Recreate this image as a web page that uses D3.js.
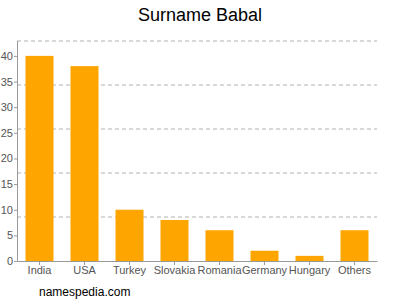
<!DOCTYPE html>
<meta charset="utf-8">
<script src="https://d3js.org/d3.v7.min.js"></script>
<style>
  body { margin: 0; }
  text { font-family: "Liberation Sans", Arial, sans-serif; }
</style>
<div id="my_dataviz"></div>
<script>

// data
var countries = ["India", "USA", "Turkey", "Slovakia", "Romania", "Germany", "Hungary", "Others"];
var counts = [40, 38, 10, 8, 6, 2, 1, 6];
var yTicks = [0, 5, 10, 15, 20, 25, 30, 35, 40];

var margin = {top: 40.5, right: 23, bottom: 39, left: 17},
    width = 400 - margin.left - margin.right,
    height = 300 - margin.top - margin.bottom;

var svg = d3.select("#my_dataviz")
  .append("svg")
    .attr("width", 400)
    .attr("height", 300);

var g = svg.append("g")
    .attr("transform", "translate(" + margin.left + "," + margin.top + ")");

var x = d3.scaleBand()
  .domain(countries)
  .range([0, width])
  .paddingInner(0.378)
  .paddingOuter(0.189);

var y = d3.scaleLinear()
  .domain([0, 43])
  .range([height, 0]);

// dashed grid lines, 5 equal steps from the top
var gridVals = d3.range(0, 5).map(function(i) { return 43 - i * 43 / 5; });
g.selectAll(".grid")
  .data(gridVals)
  .enter()
  .append("line")
    .attr("x1", 0)
    .attr("x2", width)
    .attr("y1", function(d) { return Math.round(y(d)) + 0.5; })
    .attr("y2", function(d) { return Math.round(y(d)) + 0.5; })
    .attr("stroke", "#b0b0b0")
    .attr("stroke-dasharray", "4,3");

// bars
g.selectAll("rect")
  .data(countries)
  .enter()
  .append("rect")
    .attr("x", function(d) { return x(d); })
    .attr("y", function(d, i) { return y(counts[i]); })
    .attr("width", x.bandwidth())
    .attr("height", function(d, i) { return height - y(counts[i]); })
    .attr("fill", "#ffa500");

// y axis
var yAxis = g.append("g")
  .call(d3.axisLeft(y).tickValues(yTicks).tickSize(3).tickSizeOuter(0));
yAxis.select(".domain").attr("stroke", "#999");
yAxis.selectAll(".tick line").attr("stroke", "#999");
yAxis.selectAll("text").attr("fill", "#555").style("font-size", "11px").attr("x", -4);

// x axis
var xAxis = g.append("g")
  .attr("transform", "translate(0," + height + ")")
  .call(d3.axisBottom(x).tickSize(4).tickSizeOuter(0));
xAxis.select(".domain").attr("stroke", "#999");
xAxis.selectAll(".tick line").attr("stroke", "#999");
xAxis.selectAll("text").attr("fill", "#555").style("font-size", "11px").attr("y", 5);

// title
svg.append("text")
  .attr("x", 200)
  .attr("y", 21)
  .attr("text-anchor", "middle")
  .style("font-size", "18px")
  .attr("fill", "#000")
  .text("Surname Babal");

svg.append("text")
  .attr("x", 39)
  .attr("y", 296)
  .style("font-size", "12px")
  .attr("fill", "#000")
  .text("namespedia.com");

</script>
